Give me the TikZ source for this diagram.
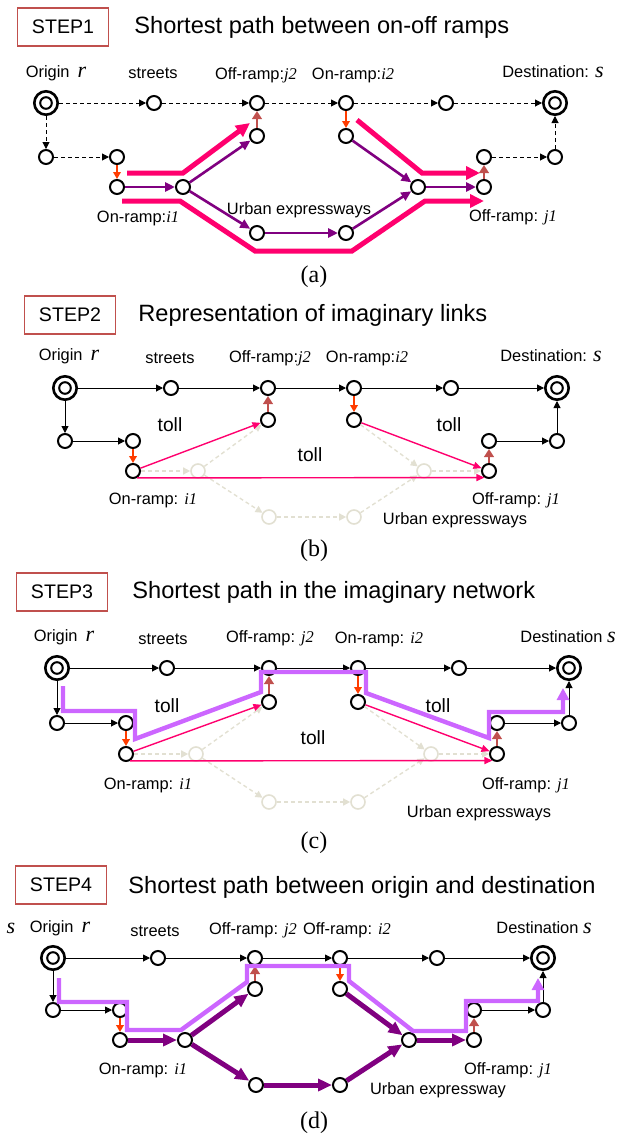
\documentclass[tikz,border=0pt]{standalone}
\usepackage{fontspec}
\setmainfont{Liberation Sans}
\newfontfamily\tms{Liberation Serif}
\usetikzlibrary{arrows.meta}
\definecolor{pnk}{RGB}{255,0,110}
\definecolor{prp}{RGB}{128,0,128}
\definecolor{vio}{RGB}{204,102,255}
\definecolor{ored}{RGB}{255,60,0}
\definecolor{brn}{RGB}{192,80,77}
\definecolor{fad}{RGB}{226,224,210}
\newcommand{\iv}[1]{{\tms\itshape #1}}
\newcommand{\ib}[1]{{\tms\itshape\fontsize{11}{12}\selectfont #1}}
\begin{document}
\begin{tikzpicture}[x=0.5pt,y=-0.5pt,
    nd/.style={circle,draw,line width=1pt,minimum size=7pt,inner sep=0pt,fill=white},
    od/.style={circle,draw,line width=1.3pt,minimum size=11.7pt,inner sep=0pt,fill=white,
      path picture={\draw[line width=1pt] (path picture bounding box.center) circle (2.9pt);}},
    fd/.style={circle,draw=fad,line width=0.8pt,minimum size=7pt,inner sep=0pt,fill=white},
    lb/.style={inner sep=0pt,font=\fontsize{8.2}{9}\selectfont},
    tl/.style={inner sep=0pt,font=\fontsize{9.6}{11}\selectfont},
    ttl/.style={inner sep=0pt,anchor=west,font=\fontsize{11.8}{14}\selectfont},
    stepbox/.style={draw=brn,line width=0.6pt,minimum width=45.5pt,minimum height=19pt,
      inner sep=0pt,font=\fontsize{9.8}{12}\selectfont},
    cpt/.style={inner sep=0pt,font=\tms\fontsize{12}{14}\selectfont},
    blk/.style={-{Triangle[length=3.5pt,width=3.5pt]},line width=0.5pt},
    dsh/.style={blk,dash pattern=on 2pt off 1.5pt},
    dna/.style={-{Triangle[length=3.5pt,width=3.8pt]},ored,line width=0.8pt},
    upa/.style={-{Triangle[length=4pt,width=4.8pt]},brn,line width=1.3pt},
    pa/.style={-{Triangle[length=5pt,width=4.5pt]},prp,line width=1.3pt},
    pb/.style={-{Triangle[length=7pt,width=6pt]},prp,line width=2.5pt},
    pk/.style={-{Triangle[length=7pt,width=6.5pt]},pnk,line width=2.5pt},
    pkt/.style={-{Triangle[length=4pt,width=3.5pt]},pnk,line width=0.7pt},
    fda/.style={-{Triangle[length=3.5pt,width=3.5pt]},fad,line width=0.7pt,dash pattern=on 2pt off 1.5pt},
    vl/.style={-{Triangle[length=6pt,width=6pt]},vio,line width=2.2pt}]
    \useasboundingbox (0,0) rectangle (618,1135);%

    % (a)
    \node[stepbox] (sA) at (63,27) {STEP1};%
    \node[ttl] (tA) at (134,27) {Shortest path between on-off ramps};%
    \node[od] (OA) at (46,103) {};%
    \node[nd] (A1) at (154,103) {};%
    \node[nd] (A2) at (257,103) {};%
    \node[nd] (A3) at (346,103) {};%
    \node[nd] (A4) at (446,103) {};%
    \node[od] (DA) at (555,103) {};%
    \node[nd] (A5) at (257,136) {};%
    \node[nd] (A6) at (346,136) {};%
    \node[nd] (A7) at (46,157) {};%
    \node[nd] (A8) at (117,157) {};%
    \node[nd] (A9) at (484,157) {};%
    \node[nd] (A10) at (555,157) {};%
    \node[nd] (A11) at (117,187) {};%
    \node[nd] (A12) at (183,187) {};%
    \node[nd] (A13) at (418,187) {};%
    \node[nd] (A14) at (484,187) {};%
    \node[nd] (A15) at (257,233) {};%
    \node[nd] (A16) at (346,233) {};%

    \node[lb] (lA1) at (56,73) {Origin\hspace{4pt}\ib{r}};%
    \node[lb] (lA2) at (153,73) {streets};%
    \node[lb] (lA3) at (256,75) {Off-ramp:\iv{j2}};%
    \node[lb] (lA4) at (353,75) {On-ramp:\iv{i2}};%
    \node[lb] (lA5) at (553,72) {Destination: \ib{s}};%
    \node[lb] (lA6) at (138,218) {On-ramp:\iv{i1}};%
    \node[lb] (lA7) at (299,210) {Urban expressways};%
    \node[lb] (lA8) at (513,217) {Off-ramp: \iv{j1}};%
    \node[cpt] (cA) at (314,277) {(a)};%

    \draw[dsh] (OA) -- (A1);%
    \draw[dsh] (A1) -- (A2);%
    \draw[dsh] (A2) -- (A3);%
    \draw[dsh] (A3) -- (A4);%
    \draw[dsh] (A4) -- (DA);%
    \draw[dsh] (OA) -- (A7);%
    \draw[dsh] (A7) -- (A8);%
    \draw[dsh] (A9) -- (A10);%
    \draw[dsh] (A10) -- (DA);%
    \draw[dna] (A8) -- (A11);%
    \draw[dna] (A3) -- (A6);%
    \draw[upa] (A5) -- (A2);%
    \draw[upa] (A14) -- (A9);%

    \draw[pa] (A11) -- (A12);%
    \draw[pa] (A12) -- (A5);%
    \draw[pa] (A12) -- (A15);%
    \draw[pa] (A15) -- (A16);%
    \draw[pa] (A16) -- (A13);%
    \draw[pa] (A6) -- (A13);%
    \draw[pa] (A13) -- (A14);%

    \draw[pk] (127,173) -- (183,173) -- (250,123);%
    \draw[pk] (122,201) -- (180,201) -- (255,251) -- (352,251) -- (425,201) -- (484,201);%
    \draw[pk] (357,120) -- (422,173) -- (480,173);%

    % (b)
    \node[stepbox] (sB) at (70,315) {STEP2};%
    \node[ttl] (tB) at (138,315) {Representation of imaginary links};%
    \node[od] (OB) at (65,388) {};%
    \node[nd] (B1) at (171,388) {};%
    \node[nd] (B2) at (268,388) {};%
    \node[nd] (B3) at (354,388) {};%
    \node[nd] (B4) at (451,388) {};%
    \node[od] (DB) at (557,388) {};%
    \node[nd] (B5) at (268,420) {};%
    \node[nd] (B6) at (354,420) {};%
    \node[nd] (B7) at (65,441) {};%
    \node[nd] (B8) at (133,441) {};%
    \node[nd] (B9) at (489,441) {};%
    \node[nd] (B10) at (557,441) {};%
    \node[nd] (B11) at (133,471) {};%
    \node[fd] (FB12) at (198,471) {};%
    \node[fd] (FB13) at (424,471) {};%
    \node[nd] (B14) at (489,471) {};%
    \node[fd] (FB15) at (269,517) {};%
    \node[fd] (FB16) at (354,517) {};%

    \node[lb] (lB1) at (69,356) {Origin\hspace{4pt}\ib{r}};%
    \node[lb] (lB2) at (170,358) {streets};%
    \node[lb] (lB3) at (270,358) {Off-ramp:\iv{j2}};%
    \node[lb] (lB4) at (367,358) {On-ramp:\iv{i2}};%
    \node[lb] (lB5) at (551,356) {Destination: \ib{s}};%
    \node[tl] (lB6) at (170,425) {toll};%
    \node[tl] (lB7) at (449,425) {toll};%
    \node[tl] (lB8) at (310,455) {toll};%
    \node[lb] (lB9) at (153,500) {On-ramp: \iv{i1}};%
    \node[lb] (lB10) at (516,500) {Off-ramp: \iv{j1}};%
    \node[lb] (lB11) at (455,520) {Urban expressways};%
    \node[cpt] (cB) at (314,551) {(b)};%

    \draw[fda] (B11) -- (FB12);%
    \draw[fda] (FB12) -- (B5);%
    \draw[fda] (FB12) -- (FB15);%
    \draw[fda] (FB15) -- (FB16);%
    \draw[fda] (FB16) -- (FB13);%
    \draw[fda] (B6) -- (FB13);%
    \draw[fda] (FB13) -- (B14);%

    \draw[blk] (OB) -- (B1);%
    \draw[blk] (B1) -- (B2);%
    \draw[blk] (B2) -- (B3);%
    \draw[blk] (B3) -- (B4);%
    \draw[blk] (B4) -- (DB);%
    \draw[blk] (OB) -- (B7);%
    \draw[blk] (B7) -- (B8);%
    \draw[blk] (B9) -- (B10);%
    \draw[blk] (B10) -- (DB);%
    \draw[dna] (B8) -- (B11);%
    \draw[dna] (B3) -- (B6);%
    \draw[upa] (B5) -- (B2);%
    \draw[upa] (B14) -- (B9);%

    \draw[pkt] (B11) -- (B5);%
    \draw[pkt] (B6) -- (B14);%
    \draw[pkt] (B11.-60) -- (B14.-125);%

    % (c)
    \node[stepbox] (sC) at (62,592) {STEP3};%
    \node[ttl] (tC) at (132,592) {Shortest path in the imaginary network};%
    \node[od] (OC) at (57,668) {};%
    \node[nd] (C1) at (167,668) {};%
    \node[nd] (C2) at (269,668) {};%
    \node[nd] (C3) at (358,668) {};%
    \node[nd] (C4) at (459,668) {};%
    \node[od] (DC) at (569,668) {};%
    \node[nd] (C5) at (269,702) {};%
    \node[nd] (C6) at (358,702) {};%
    \node[nd] (C7) at (57,723) {};%
    \node[nd] (C8) at (126,723) {};%
    \node[nd] (C9) at (497,723) {};%
    \node[nd] (C10) at (569,723) {};%
    \node[nd] (C11) at (126,754) {};%
    \node[fd] (FC12) at (196,754) {};%
    \node[fd] (FC13) at (431,754) {};%
    \node[nd] (C14) at (497,754) {};%
    \node[fd] (FC15) at (269,802) {};%
    \node[fd] (FC16) at (358,802) {};%

    \node[lb] (lC1) at (64,637) {Origin\hspace{4pt}\ib{r}};%
    \node[lb] (lC2) at (163,639) {streets};%
    \node[lb] (lC3) at (270,638) {Off-ramp: \iv{j2}};%
    \node[lb] (lC4) at (379,639) {On-ramp: \iv{i2}};%
    \node[lb] (lC5) at (568,637) {Destination \ib{s}};%
    \node[tl] (lC6) at (167,706) {toll};%
    \node[tl] (lC7) at (438,706) {toll};%
    \node[tl] (lC8) at (313,738) {toll};%
    \node[lb] (lC9) at (148,785) {On-ramp: \iv{i1}};%
    \node[lb] (lC10) at (526,785) {Off-ramp: \iv{j1}};%
    \node[lb] (lC11) at (479,813) {Urban expressways};%
    \node[cpt] (cC) at (314,843) {(c)};%

    \draw[fda] (C11) -- (FC12);%
    \draw[fda] (FC12) -- (C5);%
    \draw[fda] (FC12) -- (FC15);%
    \draw[fda] (FC15) -- (FC16);%
    \draw[fda] (FC16) -- (FC13);%
    \draw[fda] (C6) -- (FC13);%
    \draw[fda] (FC13) -- (C14);%

    \draw[blk] (OC) -- (C1);%
    \draw[blk] (C1) -- (C2);%
    \draw[blk] (C2) -- (C3);%
    \draw[blk] (C3) -- (C4);%
    \draw[blk] (C4) -- (DC);%
    \draw[blk] (OC) -- (C7);%
    \draw[blk] (C7) -- (C8);%
    \draw[blk] (C9) -- (C10);%
    \draw[blk] (C10) -- (DC);%
    \draw[dna] (C8) -- (C11);%
    \draw[dna] (C3) -- (C6);%
    \draw[upa] (C5) -- (C2);%
    \draw[upa] (C14) -- (C9);%

    \draw[pkt] (C11) -- (C5);%
    \draw[pkt] (C6) -- (C14);%
    \draw[pkt] (C11.-60) -- (C14.-125);%

    \draw[vl] (63,686) -- (63,711) -- (135,711) -- (135,739) -- (261,692) -- (261,672)
      -- (366,672) -- (366,693) -- (489,738) -- (489,712) -- (563,712) -- (563,688);%

    % (d)
    \node[stepbox] (sD) at (61,885) {STEP4};%
    \node[ttl] (tD) at (128,887) {Shortest path between origin and destination};%
    \node[od] (OD) at (53,958) {};%
    \node[nd] (D1) at (158,958) {};%
    \node[nd] (D2) at (255,958) {};%
    \node[nd] (D3) at (340,958) {};%
    \node[nd] (D4) at (437,958) {};%
    \node[od] (DD) at (543,958) {};%
    \node[nd] (D5) at (255,989) {};%
    \node[nd] (D6) at (340,989) {};%
    \node[nd] (D7) at (53,1010) {};%
    \node[nd] (D8) at (120,1010) {};%
    \node[nd] (D9) at (474,1010) {};%
    \node[nd] (D10) at (543,1010) {};%
    \node[nd] (D11) at (120,1040) {};%
    \node[nd] (D12) at (185,1040) {};%
    \node[nd] (D13) at (409,1040) {};%
    \node[nd] (D14) at (474,1040) {};%
    \node[nd] (D15) at (256,1085) {};%
    \node[nd] (D16) at (340,1085) {};%

    \node[lb] (lD0) at (11,928) {\ib{s}};%
    \node[lb] (lD1) at (60,928) {Origin\hspace{4pt}\ib{r}};%
    \node[lb] (lD2) at (155,931) {streets};%
    \node[lb] (lD3) at (253,930) {Off-ramp: \iv{j2}};%
    \node[lb] (lD4) at (347,930) {Off-ramp: \iv{i2}};%
    \node[lb] (lD5) at (544,928) {Destination \ib{s}};%
    \node[lb] (lD6) at (143,1070) {On-ramp: \iv{i1}};%
    \node[lb] (lD7) at (508,1070) {Off-ramp: \iv{j1}};%
    \node[lb] (lD8) at (438,1090) {Urban expressway};%
    \node[cpt] (cD) at (314,1123) {(d)};%

    \draw[blk] (OD) -- (D1);%
    \draw[blk] (D1) -- (D2);%
    \draw[blk] (D2) -- (D3);%
    \draw[blk] (D3) -- (D4);%
    \draw[blk] (D4) -- (DD);%
    \draw[blk] (OD) -- (D7);%
    \draw[blk] (D7) -- (D8);%
    \draw[blk] (D9) -- (D10);%
    \draw[blk] (D10) -- (DD);%
    \draw[dna] (D8) -- (D11);%
    \draw[dna] (D3) -- (D6);%
    \draw[upa] (D5) -- (D2);%
    \draw[upa] (D14) -- (D9);%

    \draw[pb] (D11) -- (D12);%
    \draw[pb] (D12) -- (D5);%
    \draw[pb] (D12) -- (D15);%
    \draw[pb] (D15) -- (D16);%
    \draw[pb] (D16) -- (D13);%
    \draw[pb] (D6) -- (D13);%
    \draw[pb] (D13) -- (D14);%

    \draw[vl] (59,978) -- (59,1002) -- (127,1002) -- (127,1030) -- (181,1030) -- (247,982)
      -- (247,966) -- (349,966) -- (349,981) -- (413,1031) -- (466,1031) -- (466,1001)
      -- (538,1001) -- (538,978);%
  \end{tikzpicture}
\end{document}
